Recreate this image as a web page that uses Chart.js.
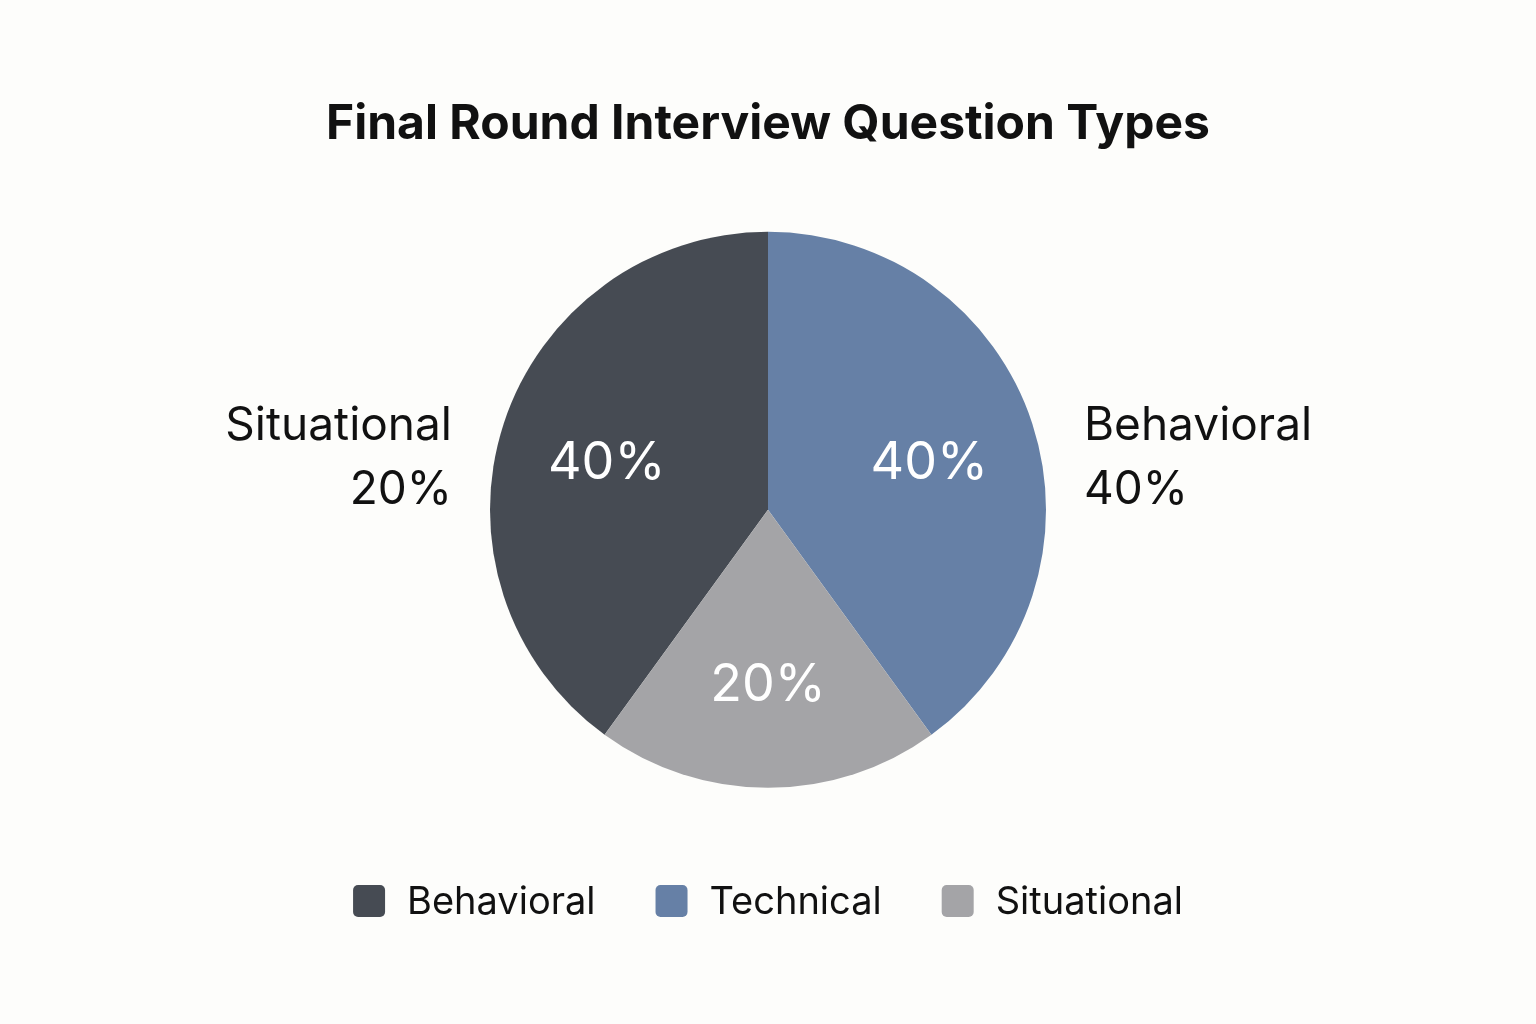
<!DOCTYPE html>
<html><head><meta charset="utf-8">
<script src="https://cdn.jsdelivr.net/npm/chart.js@4/dist/chart.umd.min.js"></script>
<style>html,body{margin:0;padding:0;background:#fdfdfb}#wrap{width:1536px;height:1024px}</style>
</head><body><div id="wrap"><canvas id="c"></canvas></div>
<script>
const titleText = 'Final Round Interview Question Types';
const categories = ['Behavioral', 'Technical', 'Situational'];
const values = [40, 40, 20];
const colors = ['#464b53', '#6680a6', '#a4a4a7'];
const sideLabels = [
  { lines: ['Situational', '20%'], side: 'left' },
  { lines: ['Behavioral', '40%'], side: 'right' }
];

const labelPlugin = {
  id: 'labels',
  afterDraw(chart) {
    const ctx = chart.ctx;
    const meta = chart.getDatasetMeta(0);
    const total = values.reduce((a, b) => a + b, 0);
    ctx.save();
    ctx.font = '52px Inter';
    ctx.fillStyle = '#ffffff';
    ctx.textAlign = 'center';
    ctx.textBaseline = 'middle';
    let cx = 0, cy = 0, R = 0;
    meta.data.forEach((arc, i) => {
      const p = arc.getProps(['x', 'y', 'startAngle', 'endAngle', 'outerRadius']);
      cx = p.x; cy = p.y; R = p.outerRadius;
      const mid = (p.startAngle + p.endAngle) / 2;
      const r = R * 0.61;
      ctx.fillText(Math.round(values[i] / total * 100) + '%', p.x + Math.cos(mid) * r, p.y + Math.sin(mid) * r + 6);
    });
    ctx.font = '46px Inter';
    ctx.fillStyle = '#111111';
    sideLabels.forEach(s => {
      ctx.textAlign = s.side === 'left' ? 'right' : 'left';
      const x = s.side === 'left' ? cx - R - 38 : cx + R + 38;
      s.lines.forEach((t, j) => ctx.fillText(t, x, cy - 84 + j * 64));
    });
    // legend
    ctx.font = '38px Inter';
    ctx.textAlign = 'left';
    const box = 32, gap = 22, spacing = 60;
    const widths = categories.map(c => box + gap + ctx.measureText(c).width);
    const totalW = widths.reduce((a, b) => a + b, 0) + spacing * (categories.length - 1);
    let x = chart.width / 2 - totalW / 2;
    const ly = 901;
    categories.forEach((c, i) => {
      ctx.fillStyle = colors[i];
      ctx.beginPath();
      ctx.roundRect(x, ly - box / 2, box, box, 5);
      ctx.fill();
      ctx.fillStyle = '#111111';
      ctx.fillText(c, x + box + gap, ly + 2);
      x += widths[i] + spacing;
    });
    ctx.restore();
  }
};

new Chart(document.getElementById('c'), {
  type: 'pie',
  data: { labels: categories, datasets: [{ data: values, backgroundColor: colors, borderWidth: 0 }] },
  options: {
    responsive: true, maintainAspectRatio: false, animation: false,
    rotation: -144,
    radius: 278,
    layout: { padding: { top: 0, bottom: 236 } },
    plugins: {
      legend: { display: false },
      tooltip: { enabled: false },
      title: { display: true, text: titleText, color: '#111111',
        font: { family: 'Inter', size: 48, weight: 'bold' }, padding: { top: 96, bottom: 78 } }
    }
  },
  plugins: [labelPlugin]
});
</script></body></html>
